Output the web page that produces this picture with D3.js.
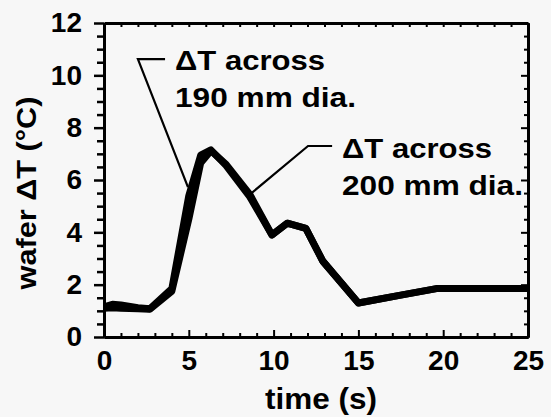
<!DOCTYPE html>
<html>
<head>
<meta charset="utf-8">
<script src="https://cdn.jsdelivr.net/npm/d3@7"></script>
<style>
	body { margin: 0; background: #f7f7f7; }
	svg { display: block; }
	text { font-family: 'Liberation Sans', Arial, sans-serif; font-weight: bold; fill: #000; }
</style>
</head>
<body>
<div id="viz"></div>
<script>
// values
const time = [0, 0.5, 1, 2, 2.7, 4.0, 5.0, 5.7, 6.3, 7.2, 8.6, 9.9, 10.8, 11.9, 12.9, 15.0, 17.5, 19.6, 22, 25]
const dt_190 = [1.15, 1.25, 1.22, 1.12, 1.08, 1.85, 5.4, 6.95, 7.15, 6.55, 5.35, 3.9, 4.35, 4.15, 2.9, 1.3, 1.6, 1.85, 1.85, 1.85]
const dt_200 = [1.1, 1.12, 1.1, 1.08, 1.06, 1.75, 4.5, 6.65, 7.12, 6.6, 5.45, 3.9, 4.35, 4.15, 2.9, 1.3, 1.6, 1.85, 1.85, 1.85]

const x_ticks = [0, 5, 10, 15, 20, 25]
const y_ticks = [0, 2, 4, 6, 8, 10, 12]

// annotation leaders, in data units
const leader_190 = [[3.6, 10.62], [2.0, 10.62], [4.95, 5.73]]
const leader_200 = [[8.7, 5.5], [12.03, 7.3], [13.45, 7.3]]
const label_190 = ['\u0394T across', '190 mm dia.']
const label_200 = ['\u0394T across', '200 mm dia.']

const WIDTH = 551
const HEIGHT = 417
const margin = { left: 104, right: 23, top: 23, bottom: 80 }

let svg = d3
	.select('#viz')
	.append('svg')
	.attr('width', WIDTH)
	.attr('height', HEIGHT)

svg.append('rect')
	.attr('width', WIDTH)
	.attr('height', HEIGHT)
	.attr('fill', '#f7f7f7')

const x = d3.scaleLinear().domain([0, 25]).range([margin.left, WIDTH - margin.right])
const y = d3.scaleLinear().domain([0, 12]).range([HEIGHT - margin.bottom, margin.top])

const x0 = x(0), x1 = x(25), y0 = y(0), y1 = y(12)

function styleAxis(g, width) {
	g.select('.domain').attr('stroke-width', 3).attr('stroke', '#000')
	g.selectAll('.tick line').attr('stroke-width', width).attr('stroke', '#000')
}

// minor ticks
const x_minor = d3.range(0, 26, 1).filter((d) => d % 5 !== 0)
const y_minor = d3.range(0, 12.01, 0.5).filter((d) => d % 2 !== 0)

// bottom axis, ticks pointing in
svg.append('g')
	.attr('transform', `translate(0,${y0})`)
	.call(d3.axisBottom(x).tickValues(x_minor).tickSize(-4).tickSizeOuter(0).tickFormat(''))
	.call((g) => styleAxis(g, 2))
svg.append('g')
	.attr('class', 'x-major')
	.attr('transform', `translate(0,${y0})`)
	.call(d3.axisBottom(x).tickValues(x_ticks).tickSize(-7).tickSizeOuter(0).tickPadding(13))
	.call((g) => styleAxis(g, 2))

// top axis
svg.append('g')
	.attr('transform', `translate(0,${y1})`)
	.call(d3.axisTop(x).tickValues(d3.range(0, 26, 1)).tickSize(-4).tickSizeOuter(0).tickFormat(''))
	.call((g) => styleAxis(g, 2))

// left axis, ticks pointing out
svg.append('g')
	.attr('transform', `translate(${x0},0)`)
	.call(d3.axisLeft(y).tickValues(y_minor).tickSize(7).tickSizeOuter(0).tickFormat(''))
	.call((g) => styleAxis(g, 2.5))
svg.append('g')
	.attr('class', 'y-major')
	.attr('transform', `translate(${x0},0)`)
	.call(d3.axisLeft(y).tickValues(y_ticks).tickSize(10).tickSizeOuter(0).tickPadding(12))
	.call((g) => styleAxis(g, 2.5))

// right axis, ticks pointing in
svg.append('g')
	.attr('transform', `translate(${x1},0)`)
	.call(d3.axisRight(y).tickValues(y_minor).tickSize(-4).tickSizeOuter(0).tickFormat(''))
	.call((g) => styleAxis(g, 2))
svg.append('g')
	.attr('transform', `translate(${x1},0)`)
	.call(d3.axisRight(y).tickValues(y_ticks).tickSize(-7).tickSizeOuter(0).tickFormat(''))
	.call((g) => styleAxis(g, 2))

svg.selectAll('.x-major text, .y-major text')
	.style('font-size', '28px')
	.style('font-family', "'Liberation Sans', Arial, sans-serif")
	.style('font-weight', 'bold')

// curves
const line = d3
	.line()
	.x((d, i) => x(time[i]))
	.y((d) => y(d))

for (let series of [dt_200, dt_190]) {
	svg.append('path')
		.datum(series)
		.attr('d', line)
		.attr('fill', 'none')
		.attr('stroke', '#000')
		.attr('stroke-width', 7)
		.attr('stroke-linejoin', 'round')
		.attr('stroke-linecap', 'butt')
}

// leaders and labels
const leader = d3.line().x((d) => x(d[0])).y((d) => y(d[1]))
for (let pts of [leader_190, leader_200]) {
	svg.append('path')
		.attr('d', leader(pts))
		.attr('fill', 'none')
		.attr('stroke', '#000')
		.attr('stroke-width', 2.2)
}

function addLabel(lines, lx, ly) {
	const t = svg.append('text').style('font-size', '28px')
	lines.forEach((s, i) => {
		t.append('tspan')
			.attr('x', lx)
			.attr('y', ly + i * 37)
			.attr('textLength', i === 0 ? 150 : 181)
			.attr('lengthAdjust', 'spacingAndGlyphs')
			.text(s)
	})
}
addLabel(label_190, 175, 70)
addLabel(label_200, 342, 158)

// axis titles
svg.append('text')
	.attr('x', (x0 + x1) / 2 + 5)
	.attr('y', 409)
	.attr('text-anchor', 'middle')
	.attr('textLength', 112)
	.attr('lengthAdjust', 'spacingAndGlyphs')
	.style('font-size', '29px')
	.text('time (s)')

svg.append('text')
	.attr('transform', 'translate(36,193) rotate(-90)')
	.attr('text-anchor', 'middle')
	.attr('textLength', 193)
	.attr('lengthAdjust', 'spacingAndGlyphs')
	.style('font-size', '27px')
	.text('wafer \u0394T (°C)')
</script>
</body>
</html>
